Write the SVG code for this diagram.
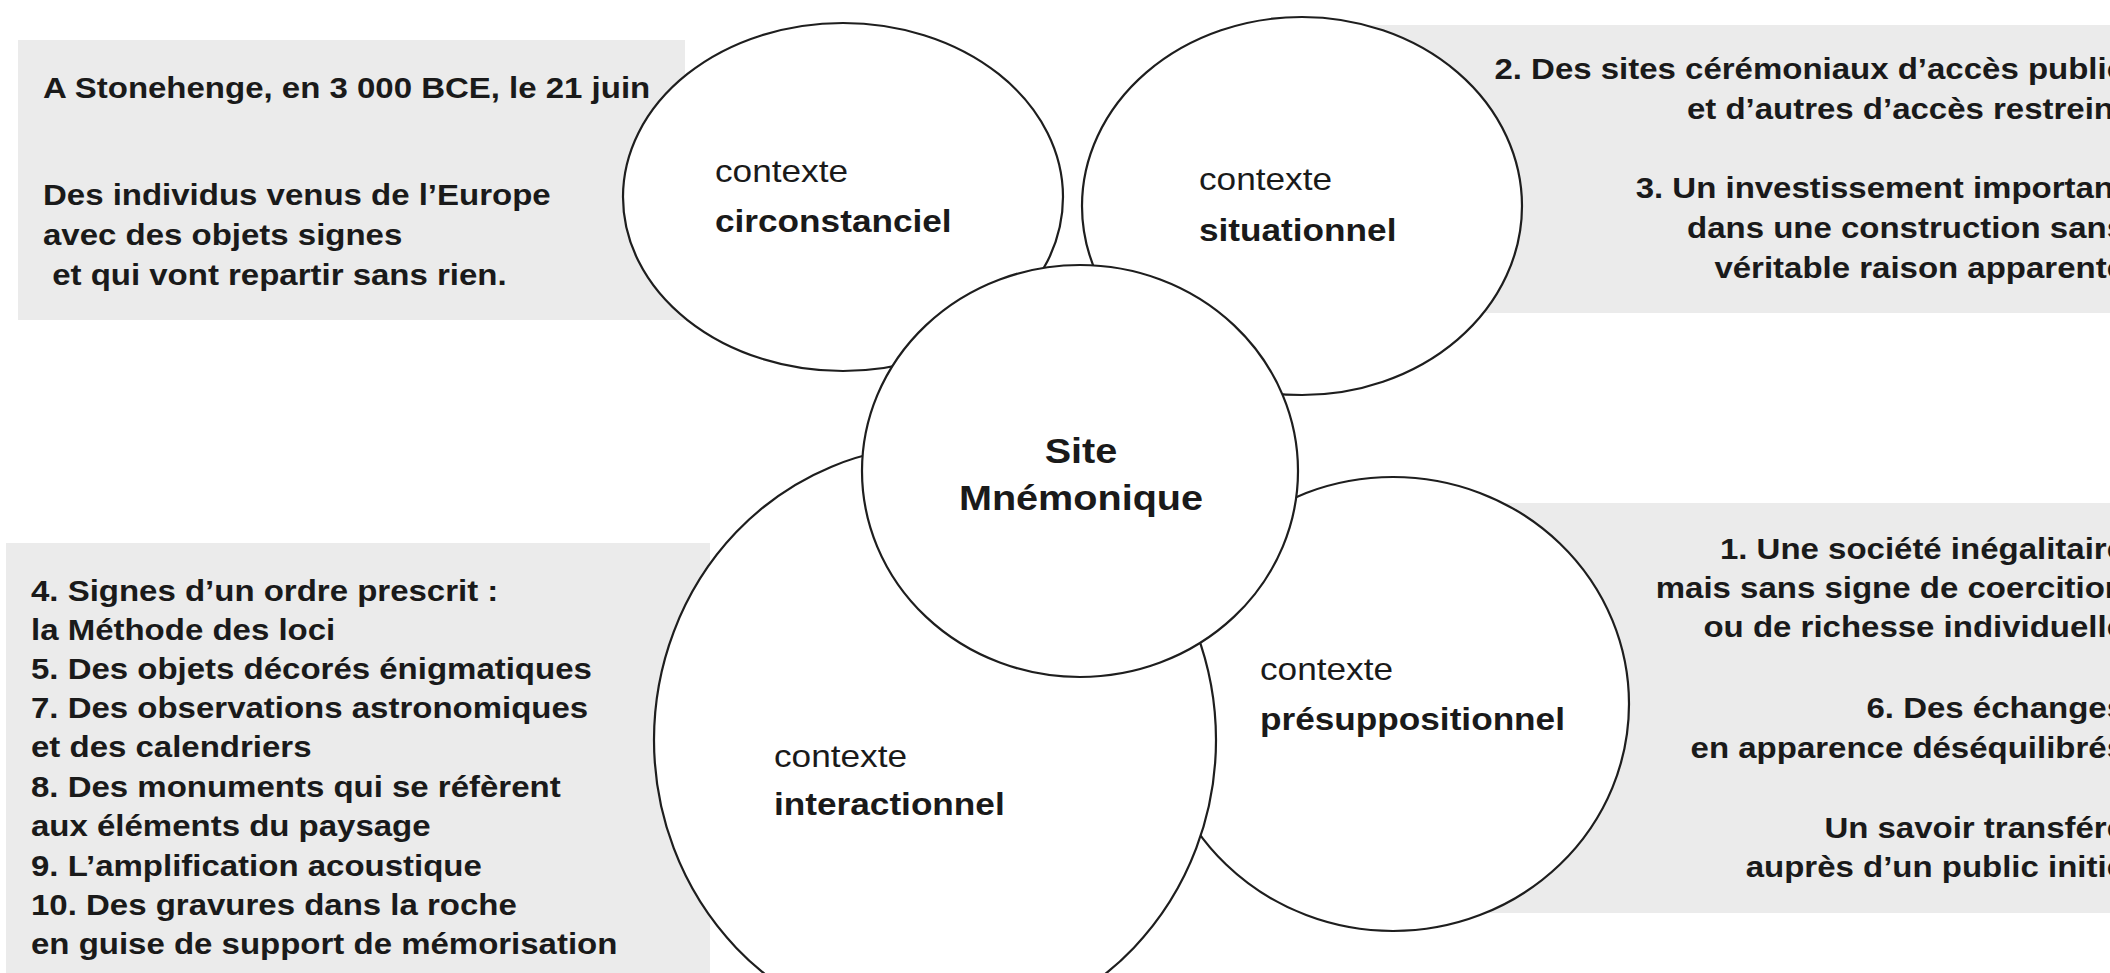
<svg xmlns="http://www.w3.org/2000/svg" width="2110" height="973" viewBox="0 0 2110 973">
<style>
.box{fill:#ebebeb;stroke:none}
.c{fill:#ffffff;stroke:#1e1e1e;stroke-width:2.2}
text{font-family:"Liberation Sans",Arial,Helvetica,sans-serif;fill:#1a1a1a}
.b{font-weight:bold;font-size:30px}
.r{font-size:32px}
.rb{font-size:32px;font-weight:bold}
.cb{font-size:36px;font-weight:bold}
</style>
<rect width="2110" height="973" fill="#ffffff"/>
<g id="boxes">
<rect class="box" x="18" y="40" width="667" height="280"/>
<rect class="box" x="1300" y="25" width="810" height="288"/>
<rect class="box" x="1400" y="503" width="710" height="410"/>
<rect class="box" x="6" y="543" width="704" height="440"/>
</g>
<g id="box-topleft-text" class="b">
<text transform="matrix(1.1 0 0 1 43 98)">A Stonehenge, en 3 000 BCE, le 21 juin</text>
<text transform="matrix(1.1 0 0 1 43 205)">Des individus venus de l’Europe</text>
<text transform="matrix(1.1 0 0 1 43 245)">avec des objets signes</text>
<text transform="matrix(1.1 0 0 1 43 285)" xml:space="preserve"> et qui vont repartir sans rien.</text>
</g>
<g id="box-topright-text" class="b" text-anchor="end">
<text transform="matrix(1.1 0 0 1 2125 79)">2. Des sites cérémoniaux d’accès public</text>
<text transform="matrix(1.1 0 0 1 2125 119)">et d’autres d’accès restreint</text>
<text transform="matrix(1.1 0 0 1 2125 198)">3. Un investissement important</text>
<text transform="matrix(1.1 0 0 1 2125 238)">dans une construction sans</text>
<text transform="matrix(1.1 0 0 1 2125 278)">véritable raison apparente</text>
</g>
<g id="box-bottomright-text" class="b" text-anchor="end">
<text transform="matrix(1.1 0 0 1 2125 559)">1. Une société inégalitaire</text>
<text transform="matrix(1.1 0 0 1 2125 598)">mais sans signe de coercition</text>
<text transform="matrix(1.1 0 0 1 2125 637)">ou de richesse individuelle</text>
<text transform="matrix(1.1 0 0 1 2125 718)">6. Des échanges</text>
<text transform="matrix(1.1 0 0 1 2125 758)">en apparence déséquilibrés</text>
<text transform="matrix(1.1 0 0 1 2125 838)">Un savoir transféré</text>
<text transform="matrix(1.1 0 0 1 2125 877)">auprès d’un public initié</text>
</g>
<g id="box-bottomleft-text" class="b">
<text transform="matrix(1.1 0 0 1 31 601)">4. Signes d’un ordre prescrit :</text>
<text transform="matrix(1.1 0 0 1 31 640)">la Méthode des loci</text>
<text transform="matrix(1.1 0 0 1 31 679)">5. Des objets décorés énigmatiques</text>
<text transform="matrix(1.1 0 0 1 31 718)">7. Des observations astronomiques</text>
<text transform="matrix(1.1 0 0 1 31 757)">et des calendriers</text>
<text transform="matrix(1.1 0 0 1 31 797)">8. Des monuments qui se réfèrent</text>
<text transform="matrix(1.1 0 0 1 31 836)">aux éléments du paysage</text>
<text transform="matrix(1.1 0 0 1 31 876)">9. L’amplification acoustique</text>
<text transform="matrix(1.1 0 0 1 31 915)">10. Des gravures dans la roche</text>
<text transform="matrix(1.1 0 0 1 31 954)">en guise de support de mémorisation</text>
</g>
<g id="connectors"></g>
<g id="node-presuppositionnel">
<ellipse class="c" cx="1393" cy="704" rx="236" ry="227"/>
<text class="r" transform="matrix(1.1 0 0 1 1260 680)">contexte</text>
<text class="rb" transform="matrix(1.1 0 0 1 1260 730)">présuppositionnel</text>
</g>
<g id="node-interactionnel">
<ellipse class="c" cx="935" cy="740" rx="281" ry="294"/>
<text class="r" transform="matrix(1.1 0 0 1 774 767)">contexte</text>
<text class="rb" transform="matrix(1.1 0 0 1 774 815)">interactionnel</text>
</g>
<g id="node-circonstanciel">
<ellipse class="c" cx="843" cy="197" rx="220" ry="174"/>
<text class="r" transform="matrix(1.1 0 0 1 715 182)">contexte</text>
<text class="rb" transform="matrix(1.1 0 0 1 715 232)">circonstanciel</text>
</g>
<g id="node-situationnel">
<ellipse class="c" cx="1302" cy="206" rx="220" ry="189"/>
<text class="r" transform="matrix(1.1 0 0 1 1199 190)">contexte</text>
<text class="rb" transform="matrix(1.1 0 0 1 1199 241)">situationnel</text>
</g>
<g id="node-site" text-anchor="middle">
<ellipse class="c" cx="1080" cy="471" rx="218" ry="206"/>
<text class="cb" transform="matrix(1.1 0 0 1 1081 463)">Site</text>
<text class="cb" transform="matrix(1.1 0 0 1 1081 510)">Mnémonique</text>
</g>
</svg>
